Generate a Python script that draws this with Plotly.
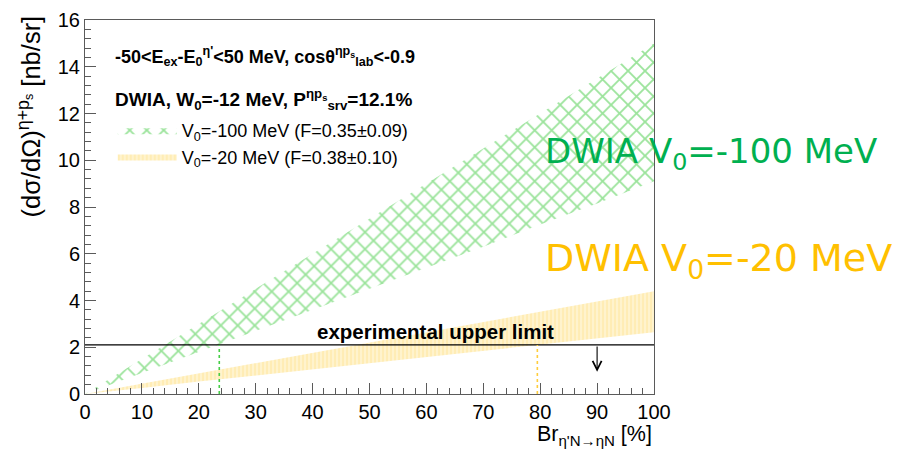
import plotly.graph_objects as go

# Branching ratio grid [%]
br = [0, 10, 20, 30, 40, 50, 60, 70, 80, 90, 100]

# DWIA V0 = -100 MeV band (lower / upper edge) [nb/sr]
v100_low = [0, 0.90, 1.80, 2.70, 3.60, 4.50, 5.40, 6.30, 7.25, 8.15, 9.10]
v100_high = [0, 1.50, 3.00, 4.50, 6.00, 7.50, 9.00, 10.50, 12.00, 13.50, 15.00]

# DWIA V0 = -20 MeV band (lower / upper edge) [nb/sr]
v20_low = [0, 0.26, 0.53, 0.79, 1.06, 1.32, 1.58, 1.85, 2.11, 2.38, 2.64]
v20_high = [0, 0.44, 0.88, 1.32, 1.76, 2.20, 2.64, 3.08, 3.52, 3.96, 4.40]

# experimental upper limit and where each band's lower edge reaches it
upper_limit = 2.1
cross_v100 = 23.6
cross_v20 = 79.5
arrow_x = 90
arrow_tip = 0.95

GREEN = "rgb(70,205,70)"
HATCH_GREEN = "rgb(55,200,55)"
YELLOW_FG = "rgb(255,230,150)"
YELLOW_BG = "rgb(255,243,205)"
FONT = "Liberation Sans"

fig = go.Figure()

# bands as closed polygons: upper edge forward, lower edge back
fig.add_trace(go.Scatter(
    x=br + br[::-1], y=v100_high + v100_low[::-1],
    fill="toself", mode="lines", line=dict(width=0, color=GREEN),
    fillcolor="rgba(0,0,0,0)",
    fillpattern=dict(shape="x", size=12, solidity=0.28, fgcolor=HATCH_GREEN,
                     bgcolor="rgba(255,255,255,0)"),
    name="V<sub>0</sub>=-100 MeV (F=0.35±0.09)", hoverinfo="skip",
))
fig.add_trace(go.Scatter(
    x=br + br[::-1], y=v20_high + v20_low[::-1],
    fill="toself", mode="lines", line=dict(width=0, color=YELLOW_FG),
    fillcolor=YELLOW_BG,
    fillpattern=dict(shape="|", size=4, solidity=0.45, fgcolor=YELLOW_FG,
                     bgcolor=YELLOW_BG),
    name="V<sub>0</sub>=-20 MeV (F=0.38±0.10)", hoverinfo="skip",
))

# upper limit line
fig.add_trace(go.Scatter(
    x=[br[0], br[-1]], y=[upper_limit, upper_limit], mode="lines",
    line=dict(color="black", width=1.3), showlegend=False, hoverinfo="skip",
))
# drop lines at the crossing points
fig.add_trace(go.Scatter(
    x=[cross_v100, cross_v100], y=[0, upper_limit], mode="lines",
    line=dict(color=GREEN, width=1.6, dash="3px,3px"), showlegend=False,
    hoverinfo="skip",
))
fig.add_trace(go.Scatter(
    x=[cross_v20, cross_v20], y=[0, upper_limit], mode="lines",
    line=dict(color="rgb(255,205,60)", width=1.6, dash="3px,3px"),
    showlegend=False, hoverinfo="skip",
))

annotations = [
    dict(x=arrow_x, y=arrow_tip, ax=arrow_x, ay=upper_limit, xref="x", yref="y",
         axref="x", ayref="y", text="", showarrow=True, arrowhead=5,
         arrowsize=1.6, arrowwidth=1.1, arrowcolor="black"),
    dict(x=61.6, y=upper_limit, xref="x", yref="y", yanchor="bottom",
         xanchor="center", showarrow=False,
         text="<b>experimental upper limit</b>",
         font=dict(family=FONT, size=20.5, color="black")),
    dict(x=0.0497, y=0.902, xref="paper", yref="paper", xanchor="left",
         yanchor="middle", showarrow=False,
         text="<b>-50&lt;E<sub>ex</sub>-E<sub>0</sub><sup>η'</sup>&lt;50 MeV, "
              "cosθ<sup>ηp<sub>s</sub></sup><sub>lab</sub>&lt;-0.9</b>",
         font=dict(family=FONT, size=18, color="black")),
    dict(x=0.0497, y=0.788, xref="paper", yref="paper", xanchor="left",
         yanchor="middle", showarrow=False,
         text="<b>DWIA, W<sub>0</sub>=-12 MeV, "
              "P<sup>ηp<sub>s</sub></sup><sub>srv</sub>=12.1%</b>",
         font=dict(family=FONT, size=19, color="black")),
    dict(x=-0.098, y=1.018, xref="paper", yref="paper", xanchor="center",
         yanchor="top", textangle=-90, showarrow=False,
         text="(dσ/dΩ)<sup>η+p<sub>s</sub></sup> [nb/sr]",
         font=dict(family=FONT, size=25.5, color="black")),
    dict(x=1.0, y=-0.111, xref="paper", yref="paper", xanchor="right",
         yanchor="middle", showarrow=False,
         text="Br<sub>η'N→ηN</sub> [%]",
         font=dict(family=FONT, size=21.5, color="black")),
    dict(x=0.805, y=0.642, xref="paper", yref="paper", xanchor="left",
         yanchor="middle", showarrow=False,
         text="DWIA V<sub>0</sub>=-100 MeV",
         font=dict(family="DejaVu Sans", size=34, color="rgb(0,176,80)")),
    dict(x=0.805, y=0.357, xref="paper", yref="paper", xanchor="left",
         yanchor="middle", showarrow=False,
         text="DWIA V<sub>0</sub>=-20 MeV",
         font=dict(family="DejaVu Sans", size=38, color="rgb(255,192,0)")),
]

axis_common = dict(
    showline=True, linecolor="rgb(90,90,90)", linewidth=1, mirror=True,
    ticks="inside", ticklen=11, tickcolor="rgb(90,90,90)", tickwidth=1,
    showgrid=False, zeroline=False, ticklabeloverflow="allow",
    tickfont=dict(family=FONT, size=20, color="black"),
)

fig.update_layout(
    width=897, height=449,
    margin=dict(l=84.7, r=243, t=9.3, b=54.5),
    paper_bgcolor="white", plot_bgcolor="white",
    xaxis=dict(range=[0, 100.0001], dtick=10, tick0=0,
               minor=dict(ticks="inside", ticklen=6, dtick=2,
                          tickcolor="rgb(90,90,90)"),
               **axis_common),
    yaxis=dict(range=[0, 16.0001], dtick=2, tick0=0,
               minor=dict(ticks="inside", ticklen=6, dtick=0.4,
                          tickcolor="rgb(90,90,90)"),
               **axis_common),
    showlegend=True,
    legend=dict(x=0.0488, y=0.754, xanchor="left", yanchor="top",
                bgcolor="rgba(0,0,0,0)", borderwidth=0, itemwidth=59,
                font=dict(family=FONT, size=18, color="black")),
    annotations=annotations,
)

fig.write_html("out.html")
